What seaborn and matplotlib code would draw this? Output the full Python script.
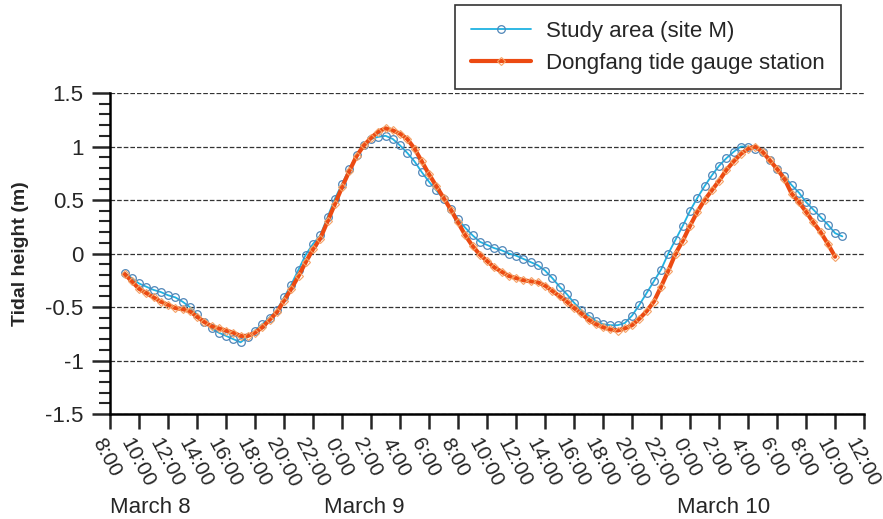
import numpy as np
import pandas as pd
import seaborn as sns
import matplotlib.pyplot as plt
import matplotlib.transforms as mtransforms
from matplotlib.ticker import MultipleLocator

# hours since 8:00 on March 8
site_hours = np.arange(1.0, 50.51, 0.5)
site_height = [
    -0.18, -0.23, -0.28, -0.31, -0.34, -0.36, -0.39, -0.41, -0.45, -0.50,
    -0.57, -0.64, -0.70, -0.74, -0.77, -0.80, -0.83, -0.78, -0.72, -0.66,
    -0.60, -0.53, -0.41, -0.29, -0.15, -0.01, 0.09, 0.17, 0.34, 0.51,
    0.65, 0.79, 0.92, 1.01, 1.07, 1.09, 1.10, 1.07, 1.01, 0.94,
    0.86, 0.76, 0.67, 0.59, 0.51, 0.42, 0.32, 0.24, 0.17, 0.11,
    0.08, 0.05, 0.03, 0.00, -0.02, -0.05, -0.08, -0.11, -0.16, -0.23,
    -0.31, -0.38, -0.46, -0.53, -0.58, -0.63, -0.66, -0.67, -0.67, -0.65,
    -0.58, -0.48, -0.37, -0.26, -0.15, 0.00, 0.13, 0.26, 0.40, 0.52,
    0.63, 0.73, 0.82, 0.89, 0.95, 1.00, 1.00, 0.98, 0.95, 0.87,
    0.79, 0.72, 0.64, 0.57, 0.48, 0.41, 0.34, 0.27, 0.19, 0.16,
]

gauge_hours = np.arange(1.0, 50.01, 0.5)
gauge_height = [
    -0.19, -0.26, -0.33, -0.37, -0.41, -0.45, -0.48, -0.51, -0.52, -0.54,
    -0.59, -0.64, -0.68, -0.70, -0.72, -0.74, -0.77, -0.77, -0.74, -0.69,
    -0.62, -0.55, -0.44, -0.33, -0.21, -0.08, 0.04, 0.14, 0.30, 0.46,
    0.62, 0.77, 0.91, 1.01, 1.08, 1.14, 1.17, 1.15, 1.12, 1.07,
    0.98, 0.86, 0.74, 0.63, 0.52, 0.41, 0.29, 0.17, 0.07, -0.01,
    -0.07, -0.13, -0.17, -0.21, -0.23, -0.25, -0.26, -0.27, -0.30, -0.35,
    -0.40, -0.45, -0.51, -0.56, -0.62, -0.66, -0.69, -0.71, -0.72, -0.70,
    -0.67, -0.61, -0.54, -0.45, -0.31, -0.16, 0.00, 0.12, 0.26, 0.39,
    0.50, 0.59, 0.68, 0.78, 0.86, 0.93, 0.98, 1.00, 0.95, 0.87,
    0.79, 0.70, 0.56, 0.48, 0.39, 0.29, 0.20, 0.09, -0.03,
]

tick_hours = list(range(0, 53, 2))
tick_labels = ['8:00', '10:00', '12:00', '14:00', '16:00', '18:00', '20:00', '22:00',
               '0:00', '2:00', '4:00', '6:00', '8:00', '10:00', '12:00', '14:00',
               '16:00', '18:00', '20:00', '22:00', '0:00', '2:00', '4:00', '6:00',
               '8:00', '10:00', '12:00']
day_labels = ['March 8', 'March 9', 'March 10']
day_hours = [2.8, 17.5, 42.3]

site = pd.DataFrame({'hour': site_hours, 'height': site_height})
gauge = pd.DataFrame({'hour': gauge_hours, 'height': gauge_height})

sns.set_style('ticks')
plt.rcParams['font.family'] = ['Liberation Sans', 'DejaVu Sans']

fig = plt.figure(figsize=(8.83, 5.19), dpi=100)
ax = fig.add_axes([0.1246, 0.2023, 0.854, 0.6185])

sns.lineplot(data=site, x='hour', y='height', ax=ax, color='#1fb2e2', lw=1.3,
             marker='o', markersize=5.5, markerfacecolor='none',
             markeredgecolor='#4f86b8', markeredgewidth=0.9,
             label='Study area (site M)')
sns.lineplot(data=gauge, x='hour', y='height', ax=ax, color='#ec4a12', lw=3.0,
             marker='D', markersize=4.5, markerfacecolor='none',
             markeredgecolor='#f5a266', markeredgewidth=0.8,
             label='Dongfang tide gauge station')

ax.set_xlim(0, 52)
ax.set_ylim(-1.5, 1.5)
ax.yaxis.set_minor_locator(MultipleLocator(0.1))
ax.set_yticks([-1.5, -1, -0.5, 0, 0.5, 1, 1.5])
ax.set_yticklabels(['-1.5', '-1', '-0.5', '0', '0.5', '1', '1.5'])
ax.set_xticks(tick_hours)
ax.set_xticklabels([])

# rotated hour labels, anchored just below each tick
shift = mtransforms.ScaledTranslation(-5 / 100, -21 / 100, fig.dpi_scale_trans)
for h, lab in zip(tick_hours, tick_labels):
    ax.text(h, 0, lab, transform=ax.get_xaxis_transform() + shift, fontsize=15,
            rotation=-62, ha='left', va='top', rotation_mode='anchor')

ax.tick_params(axis='y', which='major', direction='out', length=13, width=1.8,
               labelsize=16, pad=6)
ax.tick_params(axis='y', which='minor', direction='out', length=8, width=1.5)
ax.tick_params(axis='x', which='major', direction='out', length=11, width=1.8)

ax.grid(axis='y', which='major', linestyle='--', color='#333333', lw=0.9)
for s in ['top', 'right']:
    ax.spines[s].set_visible(False)
for s in ['left', 'bottom']:
    ax.spines[s].set_linewidth(1.8)
    ax.spines[s].set_color('black')

ax.set_xlabel('')
ax.set_ylabel('Tidal height (m)', fontsize=14, fontweight='bold', labelpad=12)

for h, lab in zip(day_hours, day_labels):
    ax.text(h, -0.29, lab, transform=ax.get_xaxis_transform(), fontsize=16,
            ha='center', va='center')

ax.get_legend().remove()
leg = fig.legend(loc='upper right', bbox_to_anchor=(0.952, 0.99), fontsize=16,
                 frameon=True, fancybox=False, edgecolor='black',
                 handlelength=2.7, handletextpad=0.7, borderpad=0.7,
                 labelspacing=0.5, borderaxespad=0)
leg.get_frame().set_linewidth(1.2)

plt.savefig('out.png', dpi=100)
